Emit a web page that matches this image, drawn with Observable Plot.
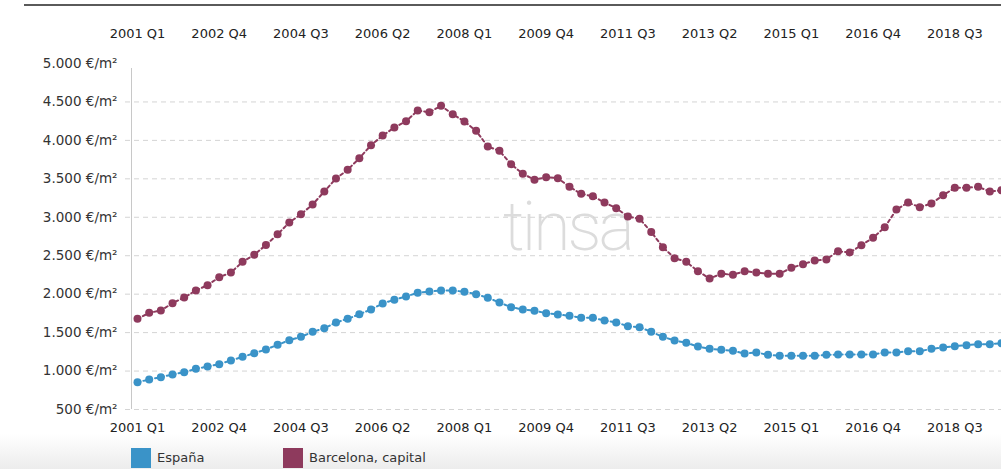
<!DOCTYPE html>
<html>
<head>
<meta charset="utf-8">
<script src="https://cdn.jsdelivr.net/npm/d3@7"></script>
<script src="https://cdn.jsdelivr.net/npm/@observablehq/plot@0.6"></script>
<style>
  html, body { margin: 0; padding: 0; background: #fff; overflow: hidden; }
  #wrap { position: relative; width: 1001px; height: 469px; overflow: hidden; font-family: "DejaVu Sans", Verdana, sans-serif; color: #333; }
  #topline { position: absolute; top: 4px; left: 24px; right: 0; height: 2px; background: #5a5a5a; }
  #bottombg { position: absolute; top: 434px; left: 0; right: 0; height: 35px; background: linear-gradient(#ffffff, #ececec); }
  #wm { position: absolute; top: 0; left: 0; }
  #chart { position: absolute; top: 0; left: 0; }
  .sw { position: absolute; top: 448px; width: 20px; height: 20px; }
  .lt { position: absolute; top: 450px; font-size: 13px; color: #333; }
</style>
</head>
<body>
<div id="wrap">
  <div id="topline"></div>
  <div id="bottombg"></div>
  <svg id="wm" width="1001" height="440"><text x="503" y="250" font-family="Roboto" font-weight="200" font-size="68" letter-spacing="-3" fill="#dcdcdc">tinsa</text></svg>
  <div id="chart"></div>
  <div class="sw" style="left:131px;background:#3a93c8"></div>
  <div class="lt" style="left:157px">España</div>
  <div class="sw" style="left:283px;background:#8e3a5d"></div>
  <div class="lt" style="left:309px">Barcelona, capital</div>
</div>
<script>
const quarters = [
  "2001 Q1","2001 Q2","2001 Q3","2001 Q4","2002 Q1","2002 Q2","2002 Q3","2002 Q4",
  "2003 Q1","2003 Q2","2003 Q3","2003 Q4","2004 Q1","2004 Q2","2004 Q3","2004 Q4",
  "2005 Q1","2005 Q2","2005 Q3","2005 Q4","2006 Q1","2006 Q2","2006 Q3","2006 Q4",
  "2007 Q1","2007 Q2","2007 Q3","2007 Q4","2008 Q1","2008 Q2","2008 Q3","2008 Q4",
  "2009 Q1","2009 Q2","2009 Q3","2009 Q4","2010 Q1","2010 Q2","2010 Q3","2010 Q4",
  "2011 Q1","2011 Q2","2011 Q3","2011 Q4","2012 Q1","2012 Q2","2012 Q3","2012 Q4",
  "2013 Q1","2013 Q2","2013 Q3","2013 Q4","2014 Q1","2014 Q2","2014 Q3","2014 Q4",
  "2015 Q1","2015 Q2","2015 Q3","2015 Q4","2016 Q1","2016 Q2","2016 Q3","2016 Q4",
  "2017 Q1","2017 Q2","2017 Q3","2017 Q4","2018 Q1","2018 Q2","2018 Q3","2018 Q4",
  "2019 Q1","2019 Q2","2019 Q3"
];

const espana = [
  855, 890, 920, 955, 985, 1029, 1059, 1089, 1137, 1185,
  1232, 1280, 1341, 1401, 1445, 1510, 1557, 1632, 1679, 1739,
  1801, 1879, 1927, 1970, 2018, 2035, 2048, 2048, 2031, 2000,
  1953, 1892, 1831, 1801, 1784, 1753, 1736, 1719, 1693, 1693,
  1658, 1632, 1584, 1571, 1510, 1445, 1397, 1367, 1319, 1289,
  1276, 1263, 1228, 1241, 1211, 1198, 1198, 1198, 1198, 1211,
  1215, 1215, 1215, 1215, 1241, 1241, 1258, 1258, 1289, 1306,
  1323, 1336, 1349, 1349, 1362
];

const barcelona = [
  1679, 1757, 1788, 1883, 1957, 2048, 2117, 2221, 2282, 2421,
  2512, 2640, 2778, 2932, 3040, 3166, 3335, 3504, 3617, 3768,
  3937, 4063, 4167, 4249, 4388, 4366, 4450, 4341, 4246, 4124,
  3920, 3864, 3690, 3565, 3489, 3521, 3508, 3396, 3305, 3274,
  3192, 3118, 3010, 2980, 2808, 2611, 2468, 2421, 2299, 2204,
  2265, 2252, 2299, 2282, 2265, 2265, 2343, 2390, 2438, 2451,
  2559, 2542, 2637, 2733, 2869, 3101, 3192, 3131, 3179, 3287,
  3383, 3383, 3396, 3335, 3352
];

const xTickLabels = ["2001 Q1","2002 Q4","2004 Q3","2006 Q2","2008 Q1","2009 Q4","2011 Q3","2013 Q2","2015 Q1","2016 Q4","2018 Q3"];
const yTicks = [500, 1000, 1500, 2000, 2500, 3000, 3500, 4000, 4500, 5000];
const yTickLabels = ["500 €/m²","1.000 €/m²","1.500 €/m²","2.000 €/m²","2.500 €/m²","3.000 €/m²","3.500 €/m²","4.000 €/m²","4.500 €/m²","5.000 €/m²"];
const gridTicks = [500, 1000, 1500, 2000, 2500, 3000, 3500, 4000, 4500];

const colorEs = "#3a93c8";
const colorBcn = "#8e3a5d";

const esData = quarters.map((q, i) => ({q, v: espana[i]}));
const bcnData = quarters.map((q, i) => ({q, v: barcelona[i]}));

const chart = Plot.plot({
  width: 1001,
  height: 440,
  marginLeft: 137,
  marginRight: 0,
  marginTop: 63,
  marginBottom: 31,
  x: {type: "point", domain: quarters, padding: 0},
  y: {domain: [500, 5000]},
  style: {fontFamily: "DejaVu Sans, Verdana, sans-serif", fontSize: "13px", color: "#333", background: "transparent", overflow: "visible"},
  marks: [
    Plot.ruleY(gridTicks, {stroke: "#d4d4d4", strokeDasharray: "5,4", insetLeft: -12}),
    Plot.ruleX([quarters[0]], {dx: -6, insetTop: 5, stroke: "#c8c8c8"}),
    Plot.lineY(esData, {x: "q", y: "v", stroke: colorEs, strokeWidth: 2, strokeDasharray: "3,3"}),
    Plot.dot(esData, {x: "q", y: "v", r: 4, fill: colorEs}),
    Plot.lineY(bcnData, {x: "q", y: "v", stroke: colorBcn, strokeWidth: 2, strokeDasharray: "3,3"}),
    Plot.dot(bcnData, {x: "q", y: "v", r: 4, fill: colorBcn}),
    Plot.axisY({ticks: yTicks, tickFormat: d => yTickLabels[yTicks.indexOf(d)], tickSize: 0, tickPadding: 20, label: null, fill: "#333", fontSize: 13.5}),
    Plot.axisX({anchor: "top", ticks: xTickLabels, tickSize: 0, tickPadding: 26, label: null, fill: "#222"}),
    Plot.axisX({anchor: "bottom", ticks: xTickLabels, tickSize: 0, tickPadding: 13, label: null, fill: "#222"})
  ]
});
document.getElementById("chart").appendChild(chart);
</script>
</body>
</html>
